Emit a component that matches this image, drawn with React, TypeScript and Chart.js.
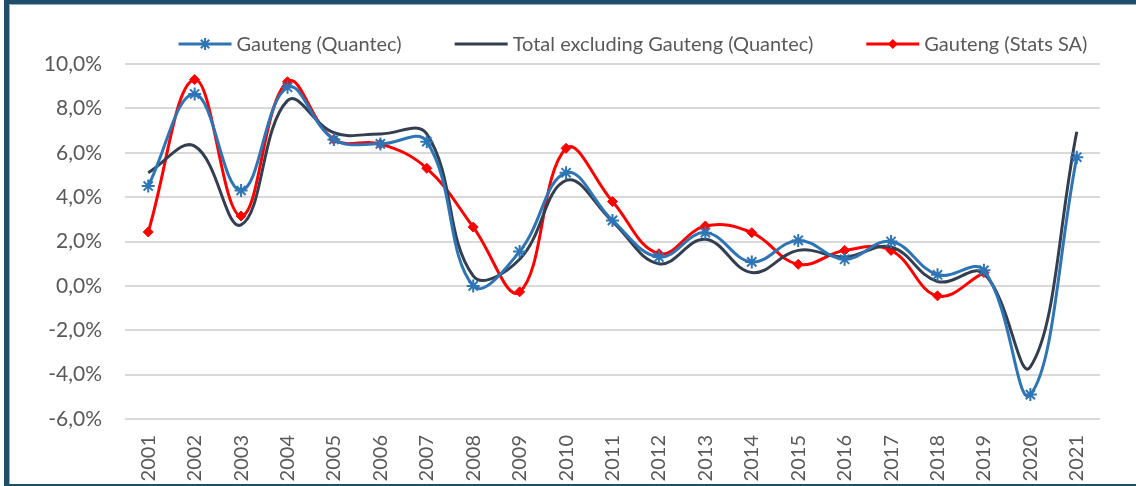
import React, { useEffect, useRef } from "react";
import { Chart, registerables } from "chart.js";

Chart.register(...registerables);

const years = ["2001","2002","2003","2004","2005","2006","2007","2008","2009","2010","2011","2012","2013","2014","2015","2016","2017","2018","2019","2020","2021"];
const gautengQuantec = [4.5, 8.65, 4.3, 8.95, 6.6, 6.4, 6.5, 0.0, 1.55, 5.1, 2.95, 1.3, 2.4, 1.08, 2.05, 1.2, 2.0, 0.5, 0.7, -4.9, 5.8];
const totalExGauteng = [5.1, 6.3, 2.75, 8.35, 6.9, 6.85, 6.85, 0.45, 1.2, 4.75, 2.9, 1.0, 2.1, 0.6, 1.6, 1.3, 1.75, 0.2, 0.55, -3.65, 6.95];
const gautengStatsSA: (number | null)[] = [2.43, 9.3, 3.15, 9.2, 6.6, 6.4, 5.3, 2.65, -0.27, 6.2, 3.8, 1.45, 2.7, 2.4, 0.97, 1.6, 1.6, -0.45, 0.6, null, null];
const seriesNames = ["Gauteng (Quantec)", "Total excluding Gauteng (Quantec)", "Gauteng (Stats SA)"];

const BLUE = "#2E75B6";
const DARK = "#333F50";
const RED = "#FF0000";
const FONT = "Lato, 'Open Sans', sans-serif";

const legendPlugin = {
  id: "customLegend",
  afterDraw(chart: any) {
    const ctx = chart.ctx as CanvasRenderingContext2D;
    ctx.save();
    ctx.font = `20px ${FONT}`;
    const lineW = 53;
    const gapLT = 5;
    const gapItem = 53;
    const colors = [BLUE, DARK, RED];
    const widths = seriesNames.map((n) => ctx.measureText(n).width);
    const total = widths.reduce((a, w) => a + lineW + gapLT + w, 0) + gapItem * 2;
    let x = 633 - total / 2;
    const y = 44;
    seriesNames.forEach((name, i) => {
      ctx.strokeStyle = colors[i];
      ctx.lineWidth = 3;
      ctx.beginPath();
      ctx.moveTo(x, y);
      ctx.lineTo(x + lineW, y);
      ctx.stroke();
      const cx = x + lineW / 2;
      if (i === 0) {
        ctx.lineWidth = 2;
        const r = 6;
        ctx.beginPath();
        for (let k = 0; k < 4; k++) {
          const a = (k * Math.PI) / 4;
          ctx.moveTo(cx - Math.cos(a) * r, y - Math.sin(a) * r);
          ctx.lineTo(cx + Math.cos(a) * r, y + Math.sin(a) * r);
        }
        ctx.stroke();
      } else if (i === 2) {
        ctx.fillStyle = RED;
        const r = 5;
        ctx.beginPath();
        ctx.moveTo(cx, y - r);
        ctx.lineTo(cx + r, y);
        ctx.lineTo(cx, y + r);
        ctx.lineTo(cx - r, y);
        ctx.closePath();
        ctx.fill();
      }
      ctx.fillStyle = "#595959";
      ctx.textAlign = "left";
      ctx.textBaseline = "middle";
      ctx.fillText(name, x + lineW + gapLT, y + 1);
      x += lineW + gapLT + widths[i] + gapItem;
    });
    ctx.restore();
  },
};

export default function App() {
  const ref = useRef<HTMLCanvasElement | null>(null);

  useEffect(() => {
    document.body.style.margin = "0";
    if (!ref.current) return;
    const chart = new Chart(ref.current, {
      type: "line",
      data: {
        labels: years,
        datasets: [
          {
            label: seriesNames[0],
            data: gautengQuantec,
            borderColor: BLUE,
            backgroundColor: BLUE,
            borderWidth: 3,
            pointStyle: "star",
            pointRadius: 6.5,
            pointBorderWidth: 2,
            pointBorderColor: BLUE,
            tension: 0.4,
          },
          {
            label: seriesNames[1],
            data: totalExGauteng,
            borderColor: DARK,
            backgroundColor: DARK,
            borderWidth: 3,
            pointRadius: 0,
            tension: 0.4,
          },
          {
            label: seriesNames[2],
            data: gautengStatsSA,
            borderColor: RED,
            backgroundColor: RED,
            borderWidth: 3,
            pointStyle: "rectRot",
            pointRadius: 5,
            pointBorderWidth: 1,
            pointBorderColor: RED,
            tension: 0.4,
            spanGaps: false,
          },
        ],
      },
      options: {
        animation: false,
        responsive: false,
        maintainAspectRatio: false,
        layout: { padding: { top: 64, right: 36, left: 0, bottom: 0 } },
        plugins: {
          legend: { display: false },
          tooltip: { enabled: false },
        },
        scales: {
          x: {
            offset: true,
            grid: { display: false, drawTicks: false },
            border: { display: false },
            ticks: {
              minRotation: 90,
              maxRotation: 90,
              autoSkip: false,
              padding: 16,
              color: "#595959",
              font: { family: FONT, size: 20 },
            },
            afterFit: (s: any) => {
              s.height = 67;
            },
          },
          y: {
            min: -6,
            max: 10,
            grid: { color: "#D9D9D9", lineWidth: 2, drawTicks: false },
            border: { display: false },
            ticks: {
              stepSize: 2,
              padding: 23,
              color: "#595959",
              font: { family: FONT, size: 21 },
              callback: (v: any) => Number(v).toFixed(1).replace(".", ",") + "%",
            },
            afterFit: (s: any) => {
              s.width = 125;
            },
          },
        },
      },
      plugins: [legendPlugin],
    });
    return () => chart.destroy();
  }, []);

  const frame = "#1F4E6B";
  return (
    <div style={{ position: "fixed", left: 0, top: 0, width: 1136, height: 486, background: "#fff", overflow: "hidden" }}>
      <canvas ref={ref} width={1136} height={486} style={{ position: "absolute", left: 0, top: 0 }} />
      <div style={{ position: "absolute", left: 4, top: 0, width: 5, height: 486, background: frame }} />
      <div style={{ position: "absolute", left: 9, top: 4, width: 1, height: 480, background: "#8FB0C4" }} />
      <div style={{ position: "absolute", left: 4, top: 0, width: 1132, height: 4, background: frame }} />
      <div style={{ position: "absolute", left: 9, top: 4, width: 1127, height: 1, background: "#8FB0C4" }} />
      <div style={{ position: "absolute", left: 4, top: 484, width: 1132, height: 2, background: frame }} />
    </div>
  );
}
